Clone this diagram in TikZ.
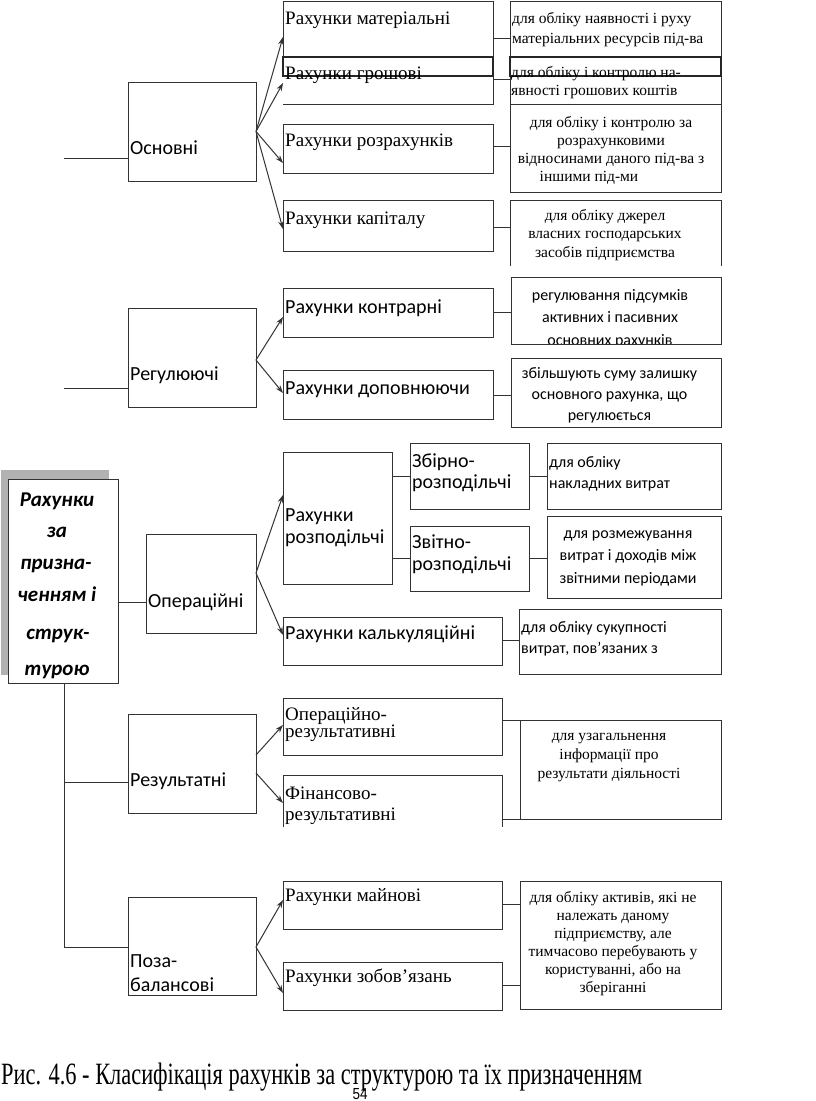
\documentclass[tikz,border=0pt]{standalone}
\usepackage{fontspec}
\setmainfont{Liberation Serif}
\newfontfamily\calfont{Carlito}
\newfontfamily\arialfont{Liberation Sans}
\usetikzlibrary{arrows.meta}
\newcommand\bx[6][bx]{\node[#1, minimum width={#5-#3}, minimum height={#6-#4}, anchor=north west] (#2) at (#3,#4) {};}
\newcommand\mltext[7]{\foreach \l [count=\i] in {#7}{\node[#6, anchor=#5] (#1-\i) at (#2,{#3+(\i-1)*#4}) {\l};}}
\begin{document}
\begin{tikzpicture}[x=1pt,y=-1pt,
  bx/.style={draw=black!80, line width=1pt, inner sep=0pt, outer sep=0pt, fill=white},
  nb/.style={inner sep=0pt, outer sep=0pt},
  ln/.style={draw=black!80, line width=1pt},
  thk/.style={draw=black!85, line width=2pt},
  arr/.style={ln, -{Stealth[length=8pt,width=5.5pt]}},
  lbs/.style={font=\fontsize{19}{21}\selectfont, inner sep=0pt, anchor=base west},
  lbc/.style={font=\calfont\fontsize{20}{22}\selectfont, inner sep=0pt, anchor=base west},
  ds/.style={font=\fontsize{15.5}{18}\selectfont, inner sep=0pt},
  dc/.style={font=\calfont\fontsize{16}{18}\selectfont, inner sep=0pt},
  mn/.style={font=\calfont\bfseries\itshape\fontsize{21}{24}\selectfont, inner sep=0pt, anchor=base}
]
\useasboundingbox (0,0) rectangle (816,1101);
\fill[white] (0,0) rectangle (816,1101);

% ---------- main box with shadow
\fill[black!30] (1,470) rectangle (109,675);
\bx{main}{8}{479}{118}{683}
\node[mn] (m1) at (57,506) {Рахунки};
\node[mn] (m2) at (57,537) {за};
\node[mn] (m3) at (56,569) {призна-};
\node[mn] (m4) at (57,601) {ченням і};
\node[mn] (m5) at (58,639) {струк-};
\node[mn] (m6) at (57,675) {турою};

% ---------- level 1 boxes
\bx{osn}{128}{82}{256}{181}
\bx{reg}{128}{308}{256}{407}
\bx{op}{146}{534}{256}{633}
\bx{res}{128}{714}{256}{813}
\bx{poz}{128}{897}{256}{995}
\node[lbc] (t-osn) at (130,154) {Основні};
\node[lbc] (t-reg) at (130,380) {Регулюючі};
\node[lbc] (t-op) at (148,607) {Операційні};
\node[lbc] (t-res) at (130,786) {Результатні};
\node[lbc] (t-poz1) at (130,967) {Поза-};
\node[lbc] (t-poz2) at (130,991) {балансові};

% ---------- trunk lines
\coordinate (s1) at (64,158);
\coordinate (s2) at (64,388);
\coordinate (tr) at (64,947);
\draw[ln] (s1) -- (osn.west |- s1);
\draw[ln] (s2) -- (reg.west |- s2);
\draw[ln] (main.east |- 0,602) -- (op.west |- 0,602);
\draw[ln] (main.south -| tr) -- (tr) -- (poz.west |- tr);
\draw[ln] (tr |- 0,782) -- (res.west |- 0,782);

% ---------- level 2 boxes
\bx{mat}{283}{1}{493}{57}
\bx[nb]{gro}{283}{57}{493}{104}
\draw[ln] (gro.north east) -- (gro.south east) -- (gro.south west);
\draw[thk] (gro.north west) rectangle (gro.east |- 0,76);
\bx{roz}{283}{124}{493}{173}
\bx{kap}{283}{200}{493}{251}
\bx{kon}{283}{288}{493}{337}
\bx{dop}{283}{370}{493}{419}
\bx{rozp}{283}{452}{392}{584}
\bx{zbir}{410}{443}{529}{509}
\bx{zvit}{410}{526}{529}{591}
\bx{kalk}{283}{617}{502}{665}
\bx{opr}{283}{698}{502}{755}
\bx[nb]{fin}{283}{775}{502}{827}
\draw[ln] (fin.south west) -- (fin.north west) -- (fin.north east) -- (fin.south east);
\bx{mai}{283}{881}{502}{929}
\bx{zob}{283}{962}{502}{1010}

\node[lbs] (t-mat) at (285,24) {Рахунки матеріальні};
\node[lbs] (t-gro) at (285,79) {Рахунки грошові};
\node[lbs] (t-roz) at (285,146) {Рахунки розрахунків};
\node[lbs] (t-kap) at (285,224) {Рахунки капіталу};
\node[lbc] (t-kon) at (285,313) {Рахунки контрарні};
\node[lbc] (t-dop) at (285,394) {Рахунки доповнюючи};
\node[lbc] (t-rozp1) at (285,521) {Рахунки};
\node[lbc] (t-rozp2) at (285,543) {розподільчі};
\node[lbc] (t-zbir1) at (412,467) {Збірно-};
\node[lbc] (t-zbir2) at (412,488) {розподільчі};
\node[lbc] (t-zvit1) at (412,548) {Звітно-};
\node[lbc] (t-zvit2) at (412,570) {розподільчі};
\node[lbc] (t-kalk) at (285,639) {Рахунки калькуляційні};
\node[lbs] (t-opr1) at (285,720) {Операційно-};
\node[lbs] (t-opr2) at (285,737) {результативні};
\node[lbs] (t-fin1) at (285,799) {Фінансово-};
\node[lbs] (t-fin2) at (285,820) {результативні};
\node[lbs] (t-mai) at (285,901) {Рахунки майнові};
\node[lbs] (t-zob) at (285,982) {Рахунки зобов’язань};

% ---------- arrows
\draw[arr] (osn.east) -- (mat.west |- 0,37);
\draw[arr] (osn.east) -- (gro.west |- 0,83);
\draw[arr] (osn.east) -- (roz.west |- 0,163);
\draw[arr] (osn.east) -- (kap.west |- 0,229);
\draw[arr] (reg.east |- 0,360) -- (kon.west |- 0,317);
\draw[arr] (reg.east |- 0,360) -- (dop.west |- 0,393);
\draw[arr] (op.east |- 0,573) -- (rozp.west |- 0,495);
\draw[arr] (op.east |- 0,573) -- (kalk.west |- 0,635);
\draw[arr] (res.east |- 0,755) -- (opr.west |- 0,725);
\draw[arr] (res.east |- 0,773) -- (fin.west |- 0,803);
\draw[arr] (poz.east |- 0,947) -- (mai.west |- 0,900);
\draw[arr] (poz.east |- 0,947) -- (zob.west |- 0,993);

% ---------- description boxes
\bx{dmat}{510}{1}{721}{57}
\bx[nb]{dgro}{510}{57}{721}{104}
\draw[ln] (dgro.north west) -- (dgro.south west) -- (dgro.south east) -- (dgro.north east);
\draw[thk] (dgro.north west) rectangle (dgro.east |- 0,76);
\bx{droz}{510}{104}{721}{192}
\bx[nb]{dkap}{510}{200}{721}{266}
\draw[ln] (dkap.south west) -- (dkap.north west) -- (dkap.north east) -- (dkap.south east);
\bx{dkon}{511}{277}{721}{344}
\bx{ddop}{511}{358}{721}{427}
\bx{dzbir}{547}{443}{721}{509}
\bx{dzvit}{547}{516}{721}{598}
\bx{dkalk}{519}{609}{721}{674}
\bx{dres}{520}{720}{721}{819}
\bx{dpoz}{520}{881}{721}{1009}

\mltext{x-mat}{512}{23}{20}{base west}{ds}{{для обліку наявності і руху},{матеріальних ресурсів під-ва}}
\mltext{x-gro}{511}{77}{18}{base west}{ds}{{для обліку і контролю на-},{явності грошових коштів}}
\mltext{x-roz}{611}{127}{18}{base}{ds}{{для обліку і контролю за},{розрахунковими},{відносинами даного під-ва з}}
\node[ds, anchor=base] (x-roz-4) at (589,181) {іншими під-ми};
\mltext{x-kap}{605}{220}{18.5}{base}{ds}{{для обліку джерел},{власних господарських},{засобів підприємства}}
\begin{scope}
\clip (512,278) rectangle (720,343.5);
\mltext{x-kon}{610}{300}{22.5}{base}{dc}{{регулювання підсумків},{активних і пасивних},{основних рахунків}}
\end{scope}
\mltext{x-dop}{609.5}{378}{21}{base}{dc}{{збільшують суму залишку},{основного рахунка, що},{регулюється}}
\mltext{x-zbir}{549}{467}{21}{base west}{dc}{{для обліку},{накладних витрат}}
\mltext{x-zvit}{628}{538}{22.5}{base}{dc}{{для розмежування},{витрат і доходів між},{звітними періодами}}
\mltext{x-kalk}{521}{632}{21}{base west}{dc}{{для обліку сукупності},{витрат, пов’язаних з}}
\mltext{x-res}{609}{740}{19}{base}{ds}{{для узагальнення},{інформації про},{результати діяльності}}
\mltext{x-poz}{613}{902}{18}{base}{ds}{{для обліку активів, які не},{належать даному},{підприємству, але},{тимчасово перебувають у},{користуванні, або на},{зберіганні}}

% ---------- connectors to descriptions
\draw[ln] (mat.east |- 0,38) -- (dmat.west |- 0,38);
\draw[ln] (gro.east |- 0,79) -- (dgro.west |- 0,79);
\draw[ln] (roz.east |- 0,146) -- (droz.west |- 0,146);
\draw[ln] (kap.east |- 0,227) -- (dkap.west |- 0,227);
\draw[ln] (kon.east |- 0,312) -- (dkon.west |- 0,312);
\draw[ln] (dop.east |- 0,395) -- (ddop.west |- 0,395);
\draw[ln] (rozp.east |- 0,476) -- (zbir.west |- 0,476);
\draw[ln] (rozp.east |- 0,558) -- (zvit.west |- 0,558);
\draw[ln] (zbir.east |- 0,476) -- (dzbir.west |- 0,476);
\draw[ln] (zvit.east |- 0,558) -- (dzvit.west |- 0,558);
\draw[ln] (kalk.east |- 0,640) -- (dkalk.west |- 0,640);
\draw[ln] (opr.east |- 0,720) -- (dres.north west);
\draw[ln] (fin.east |- 0,819) -- (dres.south west);
\draw[ln] (mai.east |- 0,904) -- (dpoz.west |- 0,904);
\draw[ln] (zob.east |- 0,985) -- (dpoz.west |- 0,985);

% ---------- caption
\node[inner sep=0pt, anchor=base west] (cap) at (1,1084) {\resizebox{641pt}{\height}{\fontsize{31}{34}\selectfont Рис. 4.6 - Класифікація рахунків за структурою та їх призначенням}};
\node[inner sep=0pt, anchor=base] (pg) at (360,1099) {\resizebox{15pt}{\height}{\arialfont\fontsize{16}{18}\selectfont 54}};
\end{tikzpicture}
\end{document}
